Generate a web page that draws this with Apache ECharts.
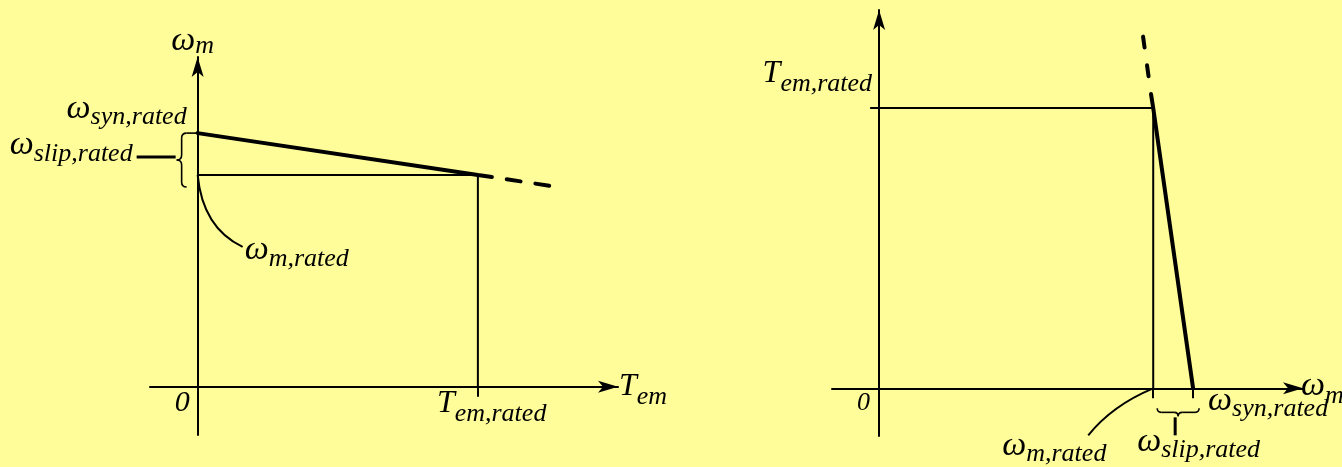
<!DOCTYPE html>
<html>
<head>
<meta charset="utf-8">
<title>Induction motor torque–speed characteristics</title>
<script src="https://cdn.jsdelivr.net/npm/echarts@6/dist/echarts.min.js"></script>
<style>
  html, body { margin: 0; padding: 0; background: #FFFD99; }
  #chart { width: 1342px; height: 467px; }
</style>
</head>
<body>
<div id="chart"></div>
<script>
// ---- Left panel: rotor speed ω_m versus electromagnetic torque T_em (per unit) ----
const torqueRated = 1.0;      // T_em,rated
const speedSyn = 1.0;         // ω_syn,rated
const speedRated = 0.835;     // ω_m,rated
// characteristic as [torque, speed]
const leftSolid = [[0, 1.0], [1.0, 0.835], [1.05, 0.827]];
const leftDashed = [[1.05, 0.827], [1.27, 0.79]];

// ---- Right panel: torque T_em versus rotor speed ω_m (per unit) ----
const omegaSynR = 1.0;        // ω_syn,rated
const omegaRatedR = 0.873;    // ω_m,rated
const torqueRatedR = 1.0;     // T_em,rated
// characteristic as [speed, torque]
const rightSolid = [[1.0, 0], [0.873, 1.0], [0.866, 1.05]];
const rightDashed = [[0.866, 1.05], [0.84, 1.26]];

// ---- text ----
const TXT = {
  omegaM: '{o|ω}{a|m}',
  omegaMx: '{o|ω}{b|m}',
  tem: '{m|T}{t|em}',
  temRated: '{m|T}{t|em,rated}',
  synRated: '{o|ω}{w|syn,rated}',
  slipRated: '{o|ω}{w|slip,rated}',
  mRated: '{o|ω}{w|m,rated}',
  zeroL: '{n|0}',
  zeroR: '{n2|0}'
};

const INK = '#000';
const FONT = '"Liberation Serif", "Times New Roman", Times, serif';

// subscripts are lowered by top padding inside the rich-text line
function richSet(colorKey) {
  const base = (size, pad) => {
    const s = { fontSize: size, fontFamily: FONT, fontStyle: 'italic', verticalAlign: 'middle' };
    s[colorKey] = INK;
    if (pad) s.padding = [pad, 0, 0, 0];
    return s;
  };
  return {
    m: base(32),
    o: base(34),
    a: base(26, 9),
    b: base(26, 21),
    w: base(26, 17),
    t: base(26, 20),
    n: base(30),
    n2: base(26)
  };
}
const RICH_LABEL = richSet('color');
const RICH_GRAPHIC = richSet('fill');

const axisLineStyle = { color: INK, width: 2 };
const arrowLine = {
  onZero: true,
  symbol: ['none', 'arrow'],
  symbolSize: [9, 20],
  lineStyle: axisLineStyle
};
const hidden = { show: false };

const chart = echarts.init(document.getElementById('chart'));

const option = {
  backgroundColor: '#FFFD99',
  animation: false,
  grid: [
    { left: 150, top: 57, width: 468, height: 378, outerBoundsMode: 'none', containLabel: false },
    { left: 832, top: 10, width: 471, height: 426, outerBoundsMode: 'none', containLabel: false }
  ],
  xAxis: [
    {
      gridIndex: 0, type: 'value', min: -0.17, max: 1.5,
      axisLine: arrowLine,
      axisTick: { show: true, customValues: [torqueRated], length: 10, lineStyle: axisLineStyle },
      axisLabel: hidden, splitLine: hidden,
      name: TXT.tem, nameLocation: 'end', nameGap: 1,
      nameTextStyle: { rich: RICH_LABEL }
    },
    {
      gridIndex: 1, type: 'value', min: -0.15, max: 1.35,
      axisLine: arrowLine,
      axisTick: { show: true, customValues: [omegaRatedR, omegaSynR], length: 10, lineStyle: axisLineStyle },
      axisLabel: hidden, splitLine: hidden,
      name: TXT.omegaMx, nameLocation: 'end', nameGap: -2,
      nameTextStyle: { rich: RICH_LABEL, padding: [0, 0, 5, 0] }
    }
  ],
  yAxis: [
    {
      gridIndex: 0, type: 'value', min: -0.19, max: 1.3,
      axisLine: arrowLine,
      axisTick: hidden, axisLabel: hidden, splitLine: hidden,
      name: TXT.omegaM, nameLocation: 'end', nameGap: -2,
      nameTextStyle: { rich: RICH_LABEL, padding: [0, 10, 0, 0] }
    },
    {
      gridIndex: 1, type: 'value', min: -0.17, max: 1.35,
      axisLine: arrowLine,
      axisTick: { show: true, customValues: [torqueRatedR], length: 9, lineStyle: axisLineStyle },
      axisLabel: hidden, splitLine: hidden
    }
  ],
  series: [
    // rated operating point guides
    {
      type: 'line', xAxisIndex: 0, yAxisIndex: 0, symbol: 'none', silent: true,
      data: [[0, speedRated], [torqueRated, speedRated], [torqueRated, 0]],
      lineStyle: { color: INK, width: 2 }
    },
    {
      type: 'line', xAxisIndex: 0, yAxisIndex: 0, symbol: 'none', silent: true,
      data: leftSolid,
      lineStyle: { color: INK, width: 4, cap: 'round' }
    },
    {
      type: 'line', xAxisIndex: 0, yAxisIndex: 0, symbol: 'none', silent: true,
      data: leftDashed,
      lineStyle: { color: INK, width: 4, cap: 'round', type: [14, 15], dashOffset: 14 }
    },
    {
      type: 'line', xAxisIndex: 1, yAxisIndex: 1, symbol: 'none', silent: true,
      data: [[0, torqueRatedR], [omegaRatedR, torqueRatedR], [omegaRatedR, 0]],
      lineStyle: { color: INK, width: 2 }
    },
    {
      type: 'line', xAxisIndex: 1, yAxisIndex: 1, symbol: 'none', silent: true,
      data: rightSolid,
      lineStyle: { color: INK, width: 4, cap: 'round' }
    },
    {
      type: 'line', xAxisIndex: 1, yAxisIndex: 1, symbol: 'none', silent: true,
      data: rightDashed,
      lineStyle: { color: INK, width: 4, cap: 'round', type: [11, 18], dashOffset: 11 }
    }
  ]
};

chart.setOption(option);

// ---- annotations: labels, braces and leader curves placed from axis coordinates ----
function px(grid, v) { return chart.convertToPixel({ gridIndex: grid }, v); }

function text(x, y, content, align) {
  return {
    type: 'text', x: x, y: y, silent: true,
    style: {
      text: content, rich: RICH_GRAPHIC, fill: INK,
      align: align, textAlign: align,
      verticalAlign: 'middle', textVerticalAlign: 'middle'
    }
  };
}
function seg(x1, y1, x2, y2, w) {
  return { type: 'line', silent: true, shape: { x1, y1, x2, y2 },
           style: { stroke: INK, lineWidth: w || 1.6 } };
}
function quad(x1, y1, cx, cy, x2, y2, w) {
  return { type: 'bezierCurve', silent: true,
           shape: { x1, y1, x2, y2, cpx1: cx, cpy1: cy },
           style: { stroke: INK, lineWidth: w || 1.6, fill: null } };
}
// vertical brace, tip pointing left
function braceV(x0, yTop, yBot, r) {
  const yMid = (yTop + yBot) / 2;
  return [
    quad(x0 + r, yTop, x0, yTop, x0, yTop + r),
    seg(x0, yTop + r, x0, yMid - r),
    quad(x0, yMid - r, x0, yMid, x0 - r, yMid),
    quad(x0 - r, yMid, x0, yMid, x0, yMid + r),
    seg(x0, yMid + r, x0, yBot - r),
    quad(x0, yBot - r, x0, yBot, x0 + r, yBot)
  ];
}
// horizontal brace, tip pointing down
function braceH(y0, xL, xR, r) {
  const xMid = (xL + xR) / 2;
  return [
    quad(xL, y0 - r, xL, y0, xL + r, y0),
    seg(xL + r, y0, xMid - r, y0),
    quad(xMid - r, y0, xMid, y0, xMid, y0 + r),
    quad(xMid, y0 + r, xMid, y0, xMid + r, y0),
    seg(xMid + r, y0, xR - r, y0),
    quad(xR - r, y0, xR, y0, xR, y0 - r)
  ];
}

function annotate() {
  const els = [];

  // left panel
  const o1 = px(0, [0, 0]);
  const pSyn = px(0, [0, speedSyn]);
  const pRated = px(0, [0, speedRated]);
  const pT = px(0, [torqueRated, 0]);

  els.push(text(pSyn[0] - 11, pSyn[1] - 24.5, TXT.synRated, 'right'));

  const bx = o1[0] - 16, bTop = pSyn[1], bBot = pRated[1] + 12, r = 5;
  els.push(seg(bx + r, bTop, o1[0], bTop));
  els.push(...braceV(bx, bTop, bBot, r));
  const bMid = (bTop + bBot) / 2;
  els.push(seg(bx - r - 1, bMid - 3, bx - r - 40, bMid - 3, 3));
  els.push(text(bx - r - 44, bMid - 14.5, TXT.slipRated, 'right'));

  els.push(quad(pRated[0], pRated[1], pRated[0] + 5, pRated[1] + 53, pRated[0] + 45, pRated[1] + 72, 2));
  els.push(text(pRated[0] + 47, pRated[1] + 75.5, TXT.mRated, 'left'));

  els.push(text(pT[0] - 41, pT[1] + 17, TXT.temRated, 'left'));
  els.push(text(o1[0] - 15.5, o1[1] + 16, TXT.zeroL, 'center'));

  // right panel
  const o2 = px(1, [0, 0]);
  const qT = px(1, [0, torqueRatedR]);
  const qRated = px(1, [omegaRatedR, 0]);
  const qSyn = px(1, [omegaSynR, 0]);

  els.push(text(qT[0] - 7, qT[1] - 34, TXT.temRated, 'right'));
  els.push(text(qSyn[0] + 15, qSyn[1] + 12.5, TXT.synRated, 'left'));

  const hy = o2[1] + 24, hL = qRated[0] + 4, hR = qSyn[0] + 6, hr = 4;
  els.push(...braceH(hy, hL, hR, hr));
  const hMid = (hL + hR) / 2;
  els.push(seg(hMid - 3, hy + hr + 1, hMid - 3, o2[1] + 47, 3));
  els.push(text(hMid - 41, o2[1] + 53.5, TXT.slipRated, 'left'));

  els.push(quad(qRated[0], qRated[1], qRated[0] - 41, qRated[1] + 17, qRated[0] - 65, qRated[1] + 47, 2));
  els.push(text(qRated[0] - 151, qRated[1] + 57.5, TXT.mRated, 'left'));

  els.push(text(o2[0] - 15.5, o2[1] + 15, TXT.zeroR, 'center'));

  chart.setOption({ graphic: { elements: els } });
}
annotate();
</script>
</body>
</html>
